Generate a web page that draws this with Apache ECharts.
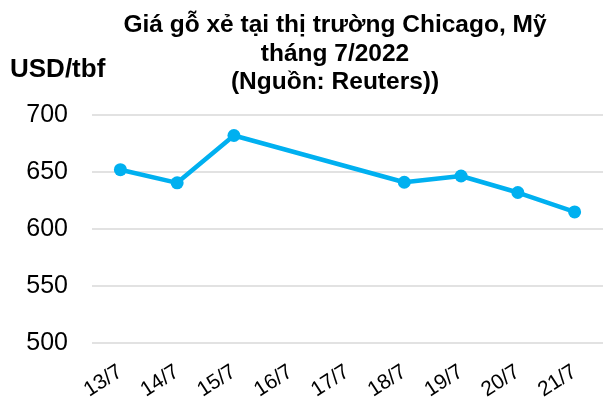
<!DOCTYPE html>
<html><head><meta charset="utf-8">
<script src="https://cdn.jsdelivr.net/npm/echarts@6/dist/echarts.min.js"></script>
<style>html,body{margin:0;padding:0;background:#fff}#c{width:613px;height:411px}</style>
</head><body><div id="c"></div>
<script>
const categories = ['13/7','14/7','15/7','16/7','17/7','18/7','19/7','20/7','21/7'];
const prices = [652, 640.5, 682, null, null, 641, 646.5, 632, 615];
const yTicks = [500, 550, 600, 650, 700];
const titleText = 'Giá gỗ xẻ tại thị trường Chicago, Mỹ\ntháng 7/2022\n(Nguồn: Reuters))';
const unitText = 'USD/tbf';

const chart = echarts.init(document.getElementById('c'), null, {renderer:'canvas'});
chart.setOption({
  backgroundColor:'#fff',
  animation:false,
  title:{
    text:titleText, left:330, top:6, textAlign:'center',
    textStyle:{fontFamily:'Liberation Sans, Arial', fontWeight:'bold', fontSize:24.5, lineHeight:28.5, color:'#000'}
  },
  graphic:[{type:'text', left:10, top:57, style:{text:unitText, font:'bold 26px "Liberation Sans", Arial', fill:'#000'}}],
  grid:{left:92, right:10, top:115, bottom:68},
  xAxis:{
    type:'category', data:categories, boundaryGap:true,
    axisLine:{show:false}, axisTick:{show:false},
    axisLabel:{rotate:33, margin:27, fontSize:21, fontFamily:'Liberation Sans, Arial', color:'#000', interval:0}
  },
  yAxis:{
    type:'value', min:yTicks[0], max:yTicks[yTicks.length-1], interval:50,
    axisLine:{show:false}, axisTick:{show:false},
    axisLabel:{fontSize:25, margin:24, fontFamily:'Liberation Sans, Arial', color:'#000'},
    splitLine:{lineStyle:{color:'#d9d9d9', width:1.5}}
  },
  series:[{
    type:'line', data:prices, connectNulls:true,
    symbol:'circle', symbolSize:13,
    lineStyle:{color:'#00B0F0', width:4.5},
    itemStyle:{color:'#00B0F0'}
  }]
});
</script></body></html>
